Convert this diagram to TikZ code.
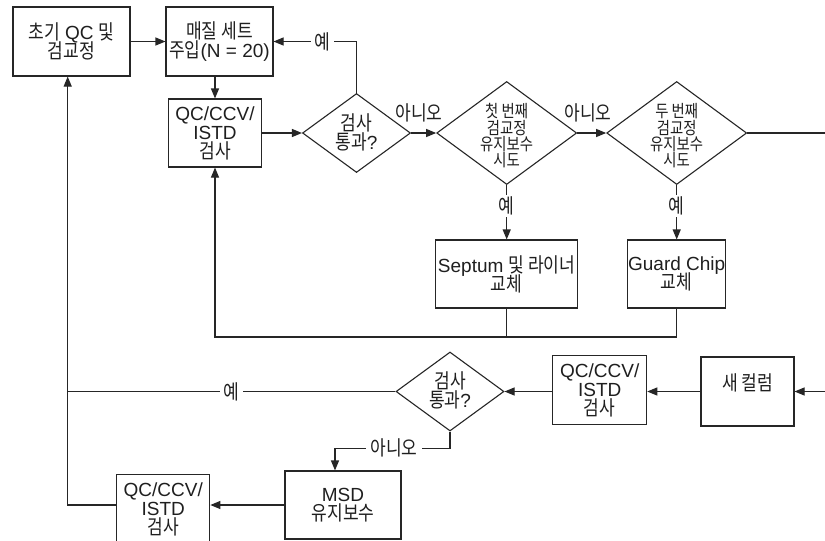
\documentclass[tikz,border=0pt]{standalone}
\usepackage{fontspec}
\setmainfont{Liberation Sans}
\newfontfamily\krfont[Scale=1.07, FakeStretch=0.84]{Noto Sans CJK KR}
\newcommand\K[1]{{\krfont #1}}
\usetikzlibrary{arrows.meta,shapes.geometric,calc}
\AtBeginDocument{\lineskiplimit=-20pt\relax}
\colorlet{ink}{black!85}
\tikzset{
  normal/.style={font=\fontsize{19}{19}\selectfont, text=black!88},
  small/.style={font=\fontsize{16}{16.3}\selectfont, text=black!88},
  box/.style={draw=ink, line width=1.1pt, rectangle, inner sep=0pt, align=center, normal},
  dia/.style={draw=ink, line width=1.1pt, diamond, inner sep=0pt},
  txt/.style={align=center, inner sep=0pt},
  lab/.style={normal, fill=white, inner xsep=4pt, inner ysep=2pt},
  conn/.style={draw=ink, line width=1.1pt},
  arr/.style={conn, -{Triangle[length=10pt,width=8pt]}},
}
\begin{document}
\begin{tikzpicture}[x=1pt,y=1pt]
\clip (0,0) rectangle (825,-541);
\fill[white] (0,0) rectangle (825,-541);
% nodes
\node[box, minimum width=117, minimum height=69] (A) at (71.5,-41.5) {\K{초기} QC \K{및}\\\K{검교정}};
\node[box, minimum width=107, minimum height=69] (B) at (219.5,-41.5) {\K{매질 세트}\\\K{주입}(N = 20)};
\node[box, minimum width=93, minimum height=68] (C) at (215,-133) {QC/CCV/\\ISTD\\\K{검사}};
\node[dia, minimum width=108, minimum height=79] (D1) at (356.5,-133) {};
\node[txt, normal] (D1t) at ([yshift=1]D1.center) {\K{검사}\\\K{통과}?};
\node[dia, minimum width=140, minimum height=103] (D2) at (506.7,-133) {};
\node[txt, small] (D2t) at ([yshift=-3]D2.center) {\K{첫 번째}\\\K{검교정}\\\K{유지보수}\\\K{시도}};
\node[dia, minimum width=140, minimum height=103] (D3) at (676.7,-133) {};
\node[txt, small] (D3t) at ([yshift=-3]D3.center) {\K{두 번째}\\\K{검교정}\\\K{유지보수}\\\K{시도}};
\node[box, minimum width=142, minimum height=68] (S) at (506.7,-274) {Septum \K{및 라이너}\\\K{교체}};
\node[box, minimum width=98, minimum height=68] (G) at (676.7,-274) {Guard Chip\\\K{교체}};
\node[box, minimum width=93, minimum height=69] (N) at (747.5,-391.5) {\K{새 컬럼}\\\mbox{}};
\node[box, minimum width=94, minimum height=69] (C2) at (599.7,-390) {QC/CCV/\\ISTD\\\K{검사}};
\node[dia, minimum width=108, minimum height=79] (D4) at (450,-391.5) {};
\node[txt, normal] (D4t) at ([yshift=1]D4.center) {\K{검사}\\\K{통과}?};
\node[box, minimum width=116, minimum height=68] (M) at (343,-505) {MSD\\\K{유지보수}};
\node[box, minimum width=93, minimum height=69] (C3) at (163.3,-509) {QC/CCV/\\ISTD\\\K{검사}};
% helper coordinates
\coordinate (R1) at (835,-133);
\coordinate (R2) at (835,-391.5);
\coordinate (fb) at (215,-337);
\coordinate (J) at (67.7,-505);
\coordinate (K) at (335,-448.3);
% connectors
\draw[arr] (A.east) -- (B.west);
\draw[arr] (B.south -| C.north) -- (C.north);
\draw[arr] (C.east) -- (D1.west);
\draw[arr] (D1.east) -- (D2.west);
\draw[arr] (D2.east) -- (D3.west);
\draw[conn] (D3.east) -- (R1);
\node[txt, normal] (n1) at (419,-113) {\K{아니오}};
\node[txt, normal] (n2) at (588,-113) {\K{아니오}};
\draw[arr] (D1.north) |- (B.east) node[lab, pos=0.705] {\K{예}};
\draw[arr] (D2.south) -- (S.north) node[lab, pos=0.38] {\K{예}};
\draw[arr] (D3.south) -- (G.north) node[lab, pos=0.38] {\K{예}};
\draw[conn] (S.south) -- (S.south |- fb);
\draw[arr] (G.south) |- (fb) -- (C.south);
\draw[arr] (R2) -- (N.east);
\draw[arr] (N.west) -- (N.west -| C2.east);
\draw[arr] (C2.west |- D4.east) -- (D4.east);
\draw[conn] (D4.west) -- (D4.west -| J) node[lab, pos=0.5] {\K{예}};
\draw[arr] (C3.west |- M.west) -| (A.south -| J);
\draw[arr] (M.west) -- (M.west -| C3.east);
\draw[arr] (D4.south) |- (K) -- (K |- M.north);
\node[lab] (n3) at (394,-448.3) {\K{아니오}};
\end{tikzpicture}
\end{document}
